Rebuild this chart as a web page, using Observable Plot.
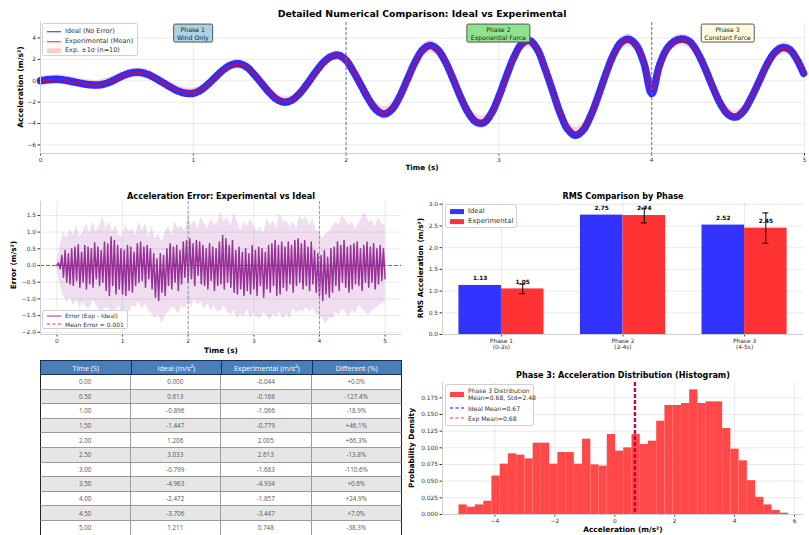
<!DOCTYPE html>
<html><head><meta charset="utf-8">
<script src="https://cdn.jsdelivr.net/npm/d3@7"></script>
<script src="https://cdn.jsdelivr.net/npm/@observablehq/plot@0.6"></script>
<style>
body{margin:0;background:#fff;}
#root{position:relative;width:809px;height:535px;overflow:hidden;font-family:"DejaVu Sans",sans-serif;background:#fff;}
.lg{position:absolute;background:rgba(255,255,255,0.85);border:1px solid #d0d0d0;border-radius:2px;color:#333;box-sizing:border-box;}
.lg .row{position:absolute;left:0;display:flex;align-items:center;white-space:nowrap;}
.box{position:absolute;transform:translate(-50%,-50%);border:1px solid #555;border-radius:2px;text-align:center;font-size:6.2px;line-height:1.2;padding:1px 3px;color:#222;white-space:nowrap;}
.tc{position:absolute;box-sizing:border-box;display:flex;align-items:center;justify-content:center;white-space:nowrap;font-family:"Open Sans","Liberation Sans",sans-serif;}
.th{background:#4a7ebb;color:#fff;font-size:7.2px;border:1.5px solid #1c2f4d;}
.td{font-size:6.3px;color:#555;border-right:1px solid #9a9a9a;border-bottom:1px solid #9a9a9a;}
</style></head>
<body><div id="root"></div>
<script>
// ---------------- DATA ----------------
const sampleStep = 0.05;                       // top panel sample spacing (s)
const idealAccel = [0,0.1,0.14,0.08,-0.05,-0.2,-0.33,-0.39,-0.36,-0.14,0.2,0.54,0.76,0.78,0.61,0.26,-0.16,-0.59,-0.96,-1.16,
 -1.17,-0.86,-0.28,0.41,1.06,1.49,1.59,1.28,0.56,-0.29,-1.14,-1.77,-2.0,-1.77,-1.12,-0.2,0.81,1.69,2.25,2.39,
 1.91,0.8,-0.49,-1.79,-2.75,-3.1,-2.67,-1.5,0.1,1.7,2.87,3.3,2.9,1.77,0.16,-1.55,-2.99,-3.85,-3.92,-3.07,
 -1.46,0.47,2.26,3.46,3.76,2.98,1.2,-0.89,-2.99,-4.53,-5.1,-4.63,-3.3,-1.43,0.64,2.44,3.59,3.88,3.3,1.6,
 -1.2,1.4,3.0,3.7,3.9,3.64,2.64,1.13,-0.6,-2.16,-3.14,-3.39,-2.85,-1.64,-0.15,1.39,2.55,3.09,2.95,2.0,0.5];
const expAccel = [-0.04,0.05,0.1,0.1,-0.08,-0.18,-0.3,-0.42,-0.33,-0.1,0.15,0.5,0.72,0.74,0.64,0.22,-0.2,-0.55,-0.92,-1.1,
 -1.12,-0.9,-0.3,0.36,1.0,1.42,1.55,1.3,0.6,-0.25,-1.05,-1.72,-1.9,-1.8,-1.1,-0.25,0.75,1.62,2.2,2.32,
 1.95,0.85,-0.45,-1.7,-2.68,-3.0,-2.62,-1.55,0.05,1.62,2.8,3.2,2.85,1.8,0.2,-1.5,-2.9,-3.75,-3.85,-3.1,
 -1.5,0.4,2.2,3.38,3.68,3.0,1.25,-0.85,-2.9,-4.4,-4.95,-4.55,-3.25,-1.45,0.6,2.38,3.5,3.8,3.25,1.7,
 -0.9,1.3,2.9,3.62,3.8,3.58,2.6,1.15,-0.55,-2.1,-3.05,-3.3,-2.8,-1.6,-0.12,1.35,2.48,3.0,2.9,2.0,0.6];
const expSigmaByPhase = [0.45, 0.6, 0.55];
const phaseBoundaries = [2, 4];
const phaseNotes = [
  {t: 1, y: 4.4, lines: ["Phase 1", "Wind Only"], bg: "#a9d3e2"},
  {t: 3, y: 4.4, lines: ["Phase 2", "Exponential Force"], bg: "#8fe28f"},
  {t: 4.5, y: 4.4, lines: ["Phase 3", "Constant Force"], bg: "#fcfcdc"}
];

const errStep = 0.025;
const errValues = [0,0.08,-0.1,0.3,-0.35,0.45,-0.5,0.35,-0.55,0.5,
 -0.6,0.55,-0.45,0.62,-0.65,0.4,-0.5,0.6,-0.7,0.55,
 -0.55,0.5,-0.65,0.68,-0.4,0.55,-0.6,0.45,-0.5,0.7,
 -0.75,0.65,-0.9,0.85,-0.6,0.75,-0.85,0.6,-0.7,0.5,
 -0.85,0.45,-0.9,0.6,-0.75,0.55,-0.8,0.4,-0.6,0.65,
 -0.5,0.7,-0.45,0.55,-0.65,0.6,-0.4,0.5,-0.7,0.35,
 -0.95,0.2,-1.05,0.35,-0.8,0.3,-0.9,0.5,-0.6,0.65,
 -0.7,0.55,-0.5,0.6,-0.75,0.45,-0.55,0.7,-0.35,0.75,
 -0.5,0.8,-0.4,0.65,-0.6,0.75,-0.3,0.7,-0.55,0.6,
 -0.6,0.5,-0.7,0.65,-0.45,0.55,-0.75,0.5,-0.6,0.7,
 -0.55,0.9,-0.7,0.8,-0.5,0.6,-0.65,0.75,-0.8,0.45,
 -0.85,0.55,-0.7,0.4,-0.9,0.5,-0.75,0.35,-0.85,0.6,
 -0.7,0.45,-0.9,0.55,-0.6,0.5,-0.95,0.4,-0.7,0.6,
 -0.8,0.65,-0.6,0.75,-0.9,0.6,-0.85,0.7,-0.65,0.55,
 -0.75,0.7,-0.55,0.6,-0.8,0.75,-0.6,0.8,-0.5,0.65,
 -0.7,0.75,-0.6,0.55,-0.75,0.7,-0.55,0.45,-0.8,0.35,
 -0.9,0.3,-1.05,0.45,-0.85,0.25,-0.95,0.5,-0.8,0.55,
 -0.6,0.7,-0.75,0.6,-0.5,0.75,-0.65,0.55,-0.8,0.6,
 -0.7,0.65,-0.55,0.7,-0.6,0.5,-0.75,0.6,-0.5,0.7,
 -0.65,0.55,-0.5,0.65,-0.7,0.5,-0.55,0.6,-0.45,0.5,
 -0.4];
const bandStep = 0.05;
const errBandHigh = [0.05,0.6,1.0,0.8,1.1,0.9,1.2,0.85,1.0,1.25,
 0.95,1.3,1.0,1.2,1.45,1.1,1.3,1.0,1.2,0.9,
 0.85,1.2,1.0,1.1,0.9,1.3,1.05,1.25,0.85,1.15,
 0.8,0.95,0.7,1.0,1.15,0.9,1.3,1.1,1.2,1.0,
 1.5,1.2,1.35,1.1,1.45,1.25,1.1,1.4,1.2,1.3,
 1.6,1.3,1.45,1.2,1.55,1.3,1.05,1.3,1.15,1.4,
 1.2,1.0,1.15,0.95,1.4,1.2,1.35,1.1,1.55,1.3,
 1.35,1.15,1.3,1.1,1.5,1.35,1.45,1.2,1.4,1.05,
 1.0,0.8,0.95,1.0,1.15,1.3,1.2,1.5,1.35,1.2,
 1.3,1.1,1.25,1.45,1.6,1.3,1.35,1.15,1.45,1.25,
 1.2];
const errBandLow = [-0.05,-0.6,-0.9,-1.1,-0.95,-1.2,-1.0,-1.3,-1.1,-1.25,
 -1.3,-1.05,-1.2,-1.35,-1.4,-1.25,-1.3,-1.5,-1.35,-1.2,
 -1.5,-1.3,-1.4,-1.2,-1.25,-1.1,-1.3,-1.15,-1.35,-1.45,
 -1.6,-1.45,-1.75,-1.5,-1.4,-1.25,-1.3,-1.45,-1.2,-1.3,
 -1.1,-1.25,-1.0,-1.2,-1.1,-1.3,-1.15,-1.35,-1.2,-1.4,
 -1.35,-1.2,-1.4,-1.5,-1.35,-1.6,-1.45,-1.55,-1.3,-1.6,
 -1.4,-1.55,-1.6,-1.4,-1.5,-1.65,-1.45,-1.55,-1.4,-1.6,
 -1.45,-1.6,-1.3,-1.45,-1.35,-1.4,-1.25,-1.4,-1.3,-1.45,
 -1.5,-1.6,-1.75,-1.55,-1.6,-1.4,-1.5,-1.3,-1.4,-1.55,
 -1.35,-1.45,-1.2,-1.3,-1.4,-1.5,-1.35,-1.3,-1.2,-1.15,
 -1.1];
const meanError = 0.001;

const phaseNames = ["Phase 1\n(0-2s)", "Phase 2\n(2-4s)", "Phase 3\n(4-5s)"];
const rmsIdeal = [1.13, 2.75, 2.52];
const rmsExp = [1.05, 2.74, 2.45];
const rmsExpErr = [0.11, 0.17, 0.35];

const histBinStart = -5.2, histBinWidth = 0.275;
const histDensity = [0.0144,0.011,0.0144,0.0199,0.0577,0.0755,0.091,0.089,0.0835,0.107,
 0.107,0.0755,0.093,0.093,0.0755,0.113,0.0745,0.0726,0.120,0.095,
 0.100,0.120,0.105,0.110,0.140,0.1635,0.1635,0.1665,0.187,0.1665,
 0.169,0.169,0.129,0.098,0.0805,0.0507,0.0258,0.0144,0.006,0.002];
const idealMean = 0.67, expMean = 0.68;

const tableTime = ["0.00","0.50","1.00","1.50","2.00","2.50","3.00","3.50","4.00","4.50","5.00"];
const tableIdeal = ["0.000","0.613","-0.896","-1.447","1.206","3.033","-0.799","-4.963","-2.472","-3.706","1.211"];
const tableExp = ["-0.044","-0.168","-1.066","-0.779","2.005","2.613","-1.683","-4.934","-1.857","-3.447","0.748"];
const tableDiff = ["+0.0%","-127.4%","-18.9%","+46.1%","+66.3%","-13.8%","-110.6%","+0.6%","+24.9%","+7.0%","-38.3%"];
const tableHeader = ["Time  (S)", "Ideal  (m/s\u00b2)", "Experimental   (m/s\u00b2)", "Different  (%)"];

// ---------------- HELPERS ----------------
const root = document.getElementById("root");
const FONT = '"DejaVu Sans", sans-serif';
const minus = s => String(s).replace("-", "\u2212");

function mkPlot(box, opts) {
  const p = Plot.plot({
    width: 809, height: 535,
    marginLeft: box.l, marginRight: 809 - box.r, marginTop: box.t, marginBottom: 535 - box.b,
    style: {background: "transparent", fontFamily: FONT, fontSize: "5.9px", color: "#333", overflow: "visible"},
    ...opts
  });
  Object.assign(p.style, {position: "absolute", left: "0px", top: "0px"});
  root.appendChild(p);
  return p;
}
function addText(txt, x, y, size, bold, rotate) {
  const d = document.createElement("div");
  d.textContent = txt;
  Object.assign(d.style, {position: "absolute", left: x + "px", top: y + "px", fontSize: size + "px",
    fontWeight: bold ? "bold" : "normal", whiteSpace: "nowrap", lineHeight: "1", color: "#000",
    transform: "translate(-50%,-50%)" + (rotate ? " rotate(-90deg)" : "")});
  root.appendChild(d);
}
function swatch(e) {
  const s = document.createElement("div");
  if (e.type === "patch") {
    Object.assign(s.style, {width: "14px", height: "5px", background: e.color});
  } else {
    Object.assign(s.style, {width: "14px", height: "0px", borderTop: `${e.w || 1.2}px ${e.type === "dash" ? "dashed" : "solid"} ${e.color}`});
  }
  s.style.flex = "none";
  return s;
}
function addLegend(x, y, w, h, fs, entries) {
  const L = document.createElement("div");
  L.className = "lg";
  Object.assign(L.style, {left: x + "px", top: y + "px", width: w + "px", height: h + "px", fontSize: fs + "px"});
  for (const e of entries) {
    const r = document.createElement("div");
    r.className = "row";
    Object.assign(r.style, {top: e.y + "px", left: "4px", transform: "translateY(-50%)"});
    r.appendChild(swatch(e));
    const t = document.createElement("div");
    t.style.marginLeft = "4px"; t.style.lineHeight = "1.15";
    t.innerText = e.label;
    r.appendChild(t);
    L.appendChild(r);
  }
  root.appendChild(L);
}
const spine = "#cfcfcf";

// ---------------- TOP PANEL ----------------
const sig = idealAccel.map((v, i) => {
  const t = i * sampleStep;
  return {t, ideal: v, exp: expAccel[i], sd: expSigmaByPhase[t < 2 ? 0 : t < 4 ? 1 : 2]};
});
const topBox = {l: 40, r: 804, t: 22, b: 153};
const topPlot = mkPlot(topBox, {
  x: {domain: [0, 5], ticks: [0,1,2,3,4,5], tickFormat: d => String(d), tickSize: 2.5, tickPadding: 2, grid: true, label: null},
  y: {domain: [-6.8, 5.45], ticks: [-6,-4,-2,0,2,4], tickFormat: d => minus(d), tickSize: 2.5, tickPadding: 2, grid: true, label: null},
  marks: [
    Plot.areaY(sig, {x: "t", y1: d => d.exp - d.sd, y2: d => d.exp + d.sd, fill: "#ff0000", fillOpacity: 0.16, curve: "catmull-rom"}),
    Plot.line(sig, {x: "t", y: "ideal", stroke: "#1a1aff", strokeWidth: 7.5, strokeDasharray: "1.4 2.4", strokeOpacity: 0.9, curve: "catmull-rom"}),
    Plot.line(sig, {x: "t", y: "exp", stroke: "#ff0000", strokeWidth: 1.3, strokeOpacity: 0.85, curve: "catmull-rom"}),
    Plot.ruleX(phaseBoundaries, {stroke: "#777", strokeDasharray: "3,2", strokeWidth: 1}),
    Plot.ruleX([0], {stroke: spine}),
    Plot.ruleY([-6.8], {stroke: spine})
  ]
});
addText("Detailed Numerical Comparison: Ideal vs Experimental", 422, 14, 9.4, true);
addText("Time (s)", 422, 168, 7.2, true);
addText("Acceleration (m/s\u00b2)", 21, 87, 7.6, true, true);
{
  const sx = topPlot.scale("x"), sy = topPlot.scale("y");
  const fx = v => sx.apply ? sx.apply(v) : topBox.l + (v - 0) / 5 * (topBox.r - topBox.l);
  const fy = v => sy.apply ? sy.apply(v) : topBox.t + (5.45 - v) / 12.25 * (topBox.b - topBox.t);
  for (const n of phaseNotes) {
    const b = document.createElement("div");
    b.className = "box";
    b.style.left = fx(n.t) + "px"; b.style.top = fy(n.y) + "px"; b.style.background = n.bg;
    b.innerText = n.lines.join("\n");
    root.appendChild(b);
  }
}
addLegend(42, 23, 96, 33, 6.5, [
  {type: "line", color: "#2020ff", label: "Ideal (No Error)", y: 8},
  {type: "line", color: "#ff2020", label: "Experimental (Mean)", y: 17.5},
  {type: "patch", color: "#ffcccc", label: "Exp. \u00b11\u03c3 (n=10)", y: 27}
]);

// ---------------- ERROR PANEL ----------------
const errRows = errValues.map((v, i) => ({t: i * errStep, e: v}));
const bandRows = errBandHigh.map((v, i) => ({t: i * bandStep, hi: v, lo: errBandLow[i]}));
mkPlot({l: 40, r: 401, t: 201, b: 334}, {
  x: {domain: [-0.25, 5.25], ticks: [0,1,2,3,4,5], tickFormat: d => String(d), tickSize: 2.5, tickPadding: 2, grid: true, label: null},
  y: {domain: [-2.066, 1.916], ticks: [-2,-1.5,-1,-0.5,0,0.5,1,1.5], tickFormat: d => minus(d.toFixed(1)), tickSize: 2.5, tickPadding: 2, grid: true, label: null},
  marks: [
    Plot.areaY(bandRows, {x: "t", y1: "lo", y2: "hi", fill: "#800080", fillOpacity: 0.13}),
    Plot.line(errRows, {x: "t", y: "e", stroke: "#800080", strokeWidth: 1.5, strokeOpacity: 0.78}),
    Plot.ruleY([meanError], {stroke: "#ff0000", strokeOpacity: 0.8, strokeDasharray: "4,2", strokeWidth: 1}),
    Plot.ruleX(phaseBoundaries, {stroke: "#888", strokeDasharray: "3,2", strokeWidth: 0.8}),
    Plot.ruleX([-0.25], {stroke: spine}),
    Plot.ruleY([-2.066], {stroke: spine})
  ]
});
addText("Acceleration Error: Experimental vs Ideal", 221, 196, 8.1, true);
addText("Time (s)", 221, 351, 7.4, true);
addText("Error (m/s\u00b2)", 14, 265, 7.4, true, true);
addLegend(42, 310, 86, 19, 6, [
  {type: "line", color: "#9a339a", label: "Error (Exp - Ideal)", y: 5},
  {type: "dash", color: "#ff3030", label: "Mean Error = 0.001", y: 13.5}
]);

// ---------------- RMS PANEL ----------------
const rmsRows = phaseNames.map((p, i) => ({i, p, ideal: rmsIdeal[i], exp: rmsExp[i], err: rmsExpErr[i]}));
mkPlot({l: 442, r: 803, t: 202, b: 334}, {
  x: {domain: [-0.485, 2.485], ticks: [0,1,2], tickFormat: i => phaseNames[i], tickSize: 2.5, tickPadding: 2, grid: true, label: null},
  y: {domain: [0, 3.04], ticks: [0,0.5,1,1.5,2,2.5,3], tickFormat: d => d.toFixed(1), tickSize: 2.5, tickPadding: 2, grid: true, label: null},
  marks: [
    Plot.rect(rmsRows, {x1: d => d.i - 0.35, x2: d => d.i, y1: d => 0, y2: "ideal", fill: "#3333ff"}),
    Plot.rect(rmsRows, {x1: d => d.i, x2: d => d.i + 0.35, y1: d => 0, y2: "exp", fill: "#ff3333"}),
    Plot.ruleX(rmsRows, {x: d => d.i + 0.175, y1: d => d.exp - d.err, y2: d => d.exp + d.err, stroke: "#000", strokeWidth: 1}),
    Plot.ruleY(rmsRows, {y: d => d.exp - d.err, x1: d => d.i + 0.15, x2: d => d.i + 0.2, stroke: "#000", strokeWidth: 1}),
    Plot.ruleY(rmsRows, {y: d => d.exp + d.err, x1: d => d.i + 0.15, x2: d => d.i + 0.2, stroke: "#000", strokeWidth: 1}),
    Plot.text(rmsRows, {x: d => d.i - 0.175, y: "ideal", text: d => d.ideal.toFixed(2), dy: -7, fontWeight: "bold", fontSize: 5.8, fill: "#000"}),
    Plot.text(rmsRows, {x: d => d.i + 0.175, y: "exp", text: d => d.exp.toFixed(2), dy: -7, fontWeight: "bold", fontSize: 5.8, fill: "#000"}),
    Plot.ruleX([-0.485], {stroke: spine}),
    Plot.ruleY([0], {stroke: spine})
  ]
});
addText("RMS Comparison by Phase", 623, 196, 8.1, true);
addText("RMS Acceleration (m/s\u00b2)", 421, 268, 7.4, true, true);
addLegend(445, 204, 72, 24, 6.8, [
  {type: "patch", color: "#3333ff", label: "Ideal", y: 6.5},
  {type: "patch", color: "#ff3333", label: "Experimental", y: 16.5}
]);

// ---------------- TABLE ----------------
{
  const tx = 40, ty = 360, tw = 362, hh = 15, rh = 14.6, cw = tw / 4;
  const cell = (x, y, w, h, txt, cls, extra) => {
    const d = document.createElement("div");
    d.className = "tc " + cls;
    Object.assign(d.style, {left: x + "px", top: y + "px", width: w + "px", height: h + "px"}, extra || {});
    d.textContent = txt;
    root.appendChild(d);
  };
  tableTime.forEach((t, i) => {
    const vals = [t, tableIdeal[i], tableExp[i], tableDiff[i]];
    vals.forEach((v, j) => cell(tx + j * cw, ty + hh + i * rh, cw, rh, v, "td", {
      background: i % 2 ? "#e6e6e6" : "#ffffff",
      borderLeft: j === 0 ? "1.5px solid #222" : "none",
      borderRight: j === 3 ? "1.5px solid #222" : "1px solid #9a9a9a"
    }));
  });
  tableHeader.forEach((h, j) => cell(tx + j * cw, ty, cw + (j < 3 ? 1 : 0), hh, h, "th"));
}

// ---------------- HISTOGRAM ----------------
const histRows = histDensity.map((v, k) => ({x1: histBinStart + k * histBinWidth, x2: histBinStart + (k + 1) * histBinWidth, v}));
mkPlot({l: 442, r: 803, t: 382, b: 514}, {
  x: {domain: [-5.75, 6.3], ticks: [-4,-2,0,2,4,6], tickFormat: d => minus(d), tickSize: 2.5, tickPadding: 2, grid: true, label: null},
  y: {domain: [0, 0.198], ticks: [0,0.025,0.05,0.075,0.1,0.125,0.15,0.175], tickFormat: d => d.toFixed(3), tickSize: 2.5, tickPadding: 2, grid: true, label: null},
  marks: [
    Plot.rect(histRows, {x1: "x1", x2: "x2", y1: d => 0, y2: "v", fill: "#ff4848"}),
    Plot.ruleX([idealMean], {stroke: "#0000ff", strokeWidth: 2, strokeDasharray: "4,2"}),
    Plot.ruleX([expMean], {stroke: "#ff0000", strokeOpacity: 0.85, strokeWidth: 2, strokeDasharray: "4,2"}),
    Plot.ruleX([-5.75], {stroke: spine}),
    Plot.ruleY([0], {stroke: spine})
  ]
});
addText("Phase 3: Acceleration Distribution (Histogram)", 623, 375, 8.1, true);
addText("Acceleration (m/s\u00b2)", 623, 530, 7.4, true);
addText("Probability Density", 412, 448, 7.4, true, true);
addLegend(445, 384, 89, 42, 6.1, [
  {type: "patch", color: "#ff4848", label: "Phase 3 Distribution\nMean=0.68, Std=2.48", y: 9},
  {type: "dash", color: "#0000ff", w: 1.5, label: "Ideal Mean=0.67", y: 23},
  {type: "dash", color: "#ff3030", w: 1.5, label: "Exp Mean=0.68", y: 32.5}
]);
</script></body></html>
